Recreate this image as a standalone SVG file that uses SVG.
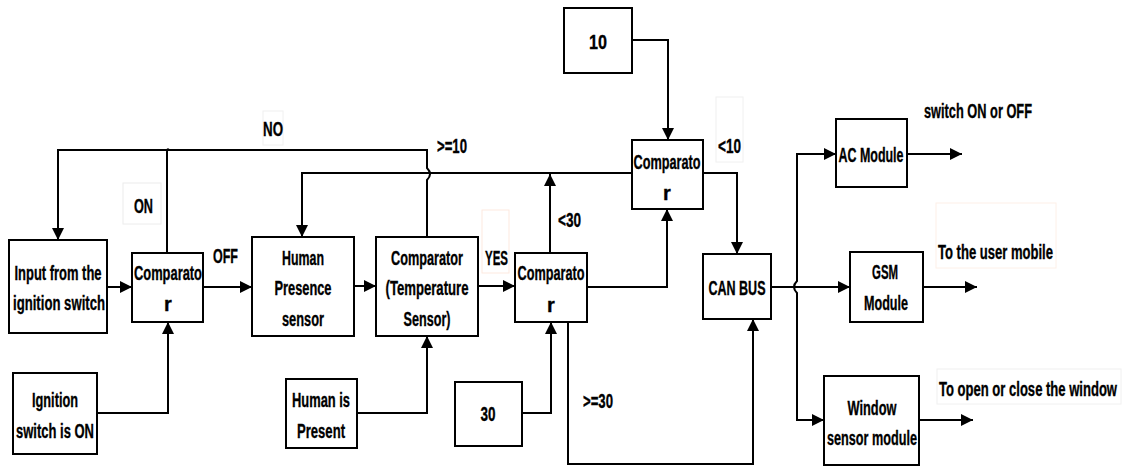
<svg xmlns="http://www.w3.org/2000/svg" width="1124" height="466" viewBox="0 0 1124 466">
<style>
.box{fill:#fff;stroke:#000;stroke-width:2}
.ln{fill:none;stroke:#000;stroke-width:2}
.lb{fill:none;stroke-width:1}
text{font-family:"Liberation Sans Narrow","Arial Narrow","Liberation Sans",Arial,sans-serif;font-weight:bold;font-size:20px;fill:#000;stroke:#000;stroke-width:0.35}
.c{text-anchor:middle}
.e{text-anchor:end}
</style>
<defs>
<marker id="ah" markerUnits="userSpaceOnUse" markerWidth="12" markerHeight="12" refX="10" refY="5" orient="auto-start-reverse" viewBox="0 0 10 10">
<path d="M0,0 L10,5 L0,10 Z" fill="#000"/>
</marker>
</defs>
<rect width="1124" height="466" fill="#fff"/>
<g id="labelboxes">
<rect class="lb" x="263" y="111" width="20" height="34" stroke="#f0f0f0"/>
<rect class="lb" x="123" y="183" width="38" height="41" stroke="#ececec"/>
<rect class="lb" x="482" y="210" width="27" height="63" stroke="#fde9df"/>
<rect class="lb" x="716" y="97" width="27" height="65" stroke="#f0f0f0"/>
<rect class="lb" x="936" y="203" width="120" height="65" stroke="#fdf0e8"/>
<rect class="lb" x="937" y="369" width="184" height="35" stroke="#f0f0f0"/>
</g>
<g id="connectors">
<path class="ln" d="M107,287 H132" marker-end="url(#ah)"/>
<path class="ln" d="M203,287 H252" marker-end="url(#ah)"/>
<path class="ln" d="M167,253 V152 Q167,148 169,150"/>
<path class="ln" d="M427,237 V180 Q433,174 427,168 V150 H58 V240" marker-end="url(#ah)"/>
<path class="ln" d="M97,413 H168 V322" marker-end="url(#ah)"/>
<path class="ln" d="M354,286 H376" marker-end="url(#ah)"/>
<path class="ln" d="M478,286 H515" marker-end="url(#ah)"/>
<path class="ln" d="M357,413 H427 V336" marker-end="url(#ah)"/>
<path class="ln" d="M522,413 H551 V322" marker-end="url(#ah)"/>
<path class="ln" d="M550,253 V174" marker-end="url(#ah)"/>
<path class="ln" d="M632,173 H302 V237" marker-end="url(#ah)"/>
<path class="ln" d="M587,287 H667 V209" marker-end="url(#ah)"/>
<path class="ln" d="M632,40 H668 V140" marker-end="url(#ah)"/>
<path class="ln" d="M703,173 H737 V254" marker-end="url(#ah)"/>
<path class="ln" d="M568,322 V464 H753 V319" marker-end="url(#ah)"/>
<path class="ln" d="M771,287 H850" marker-end="url(#ah)"/>
<path class="ln" d="M836,154 H797 V281 Q791,287 797,293 V420 H824" marker-start="url(#ah)" marker-end="url(#ah)"/>
<path class="ln" d="M907,154 H962" marker-end="url(#ah)"/>
<path class="ln" d="M923,287 H977" marker-end="url(#ah)"/>
<path class="ln" d="M919,420 H973" marker-end="url(#ah)"/>
</g>
<g id="n-input">
<rect class="box" x="9" y="240" width="98" height="93"/>
<text class="c" x="58" y="280" textLength="87" lengthAdjust="spacingAndGlyphs">Input from the</text>
<text class="c" x="59" y="310" textLength="92" lengthAdjust="spacingAndGlyphs">ignition switch</text>
</g>
<g id="n-comp1">
<rect class="box" x="132" y="253" width="71" height="69"/>
<text class="c" x="168" y="280" textLength="68" lengthAdjust="spacingAndGlyphs">Comparato</text>
<text class="c" x="168" y="311">r</text>
</g>
<g id="n-ignition">
<rect class="box" x="13" y="373" width="84" height="81"/>
<text class="c" x="55" y="407" textLength="46" lengthAdjust="spacingAndGlyphs">Ignition</text>
<text class="c" x="55" y="438" textLength="78" lengthAdjust="spacingAndGlyphs">switch is ON</text>
</g>
<g id="n-human">
<rect class="box" x="252" y="237" width="102" height="99"/>
<text class="c" x="303" y="265" textLength="42" lengthAdjust="spacingAndGlyphs">Human</text>
<text class="c" x="303" y="295" textLength="57" lengthAdjust="spacingAndGlyphs">Presence</text>
<text class="c" x="303" y="326" textLength="42" lengthAdjust="spacingAndGlyphs">sensor</text>
</g>
<g id="n-temp">
<rect class="box" x="376" y="237" width="102" height="99"/>
<text class="c" x="427" y="265" textLength="72" lengthAdjust="spacingAndGlyphs">Comparator</text>
<text class="c" x="427" y="295" textLength="83" lengthAdjust="spacingAndGlyphs">(Temperature</text>
<text class="c" x="427" y="326" textLength="47" lengthAdjust="spacingAndGlyphs">Sensor)</text>
</g>
<g id="n-present">
<rect class="box" x="286" y="379" width="71" height="69"/>
<text class="c" x="321" y="407" textLength="58" lengthAdjust="spacingAndGlyphs">Human is</text>
<text class="c" x="321" y="438" textLength="48" lengthAdjust="spacingAndGlyphs">Present</text>
</g>
<g id="n-comp3">
<rect class="box" x="515" y="253" width="72" height="69"/>
<text class="c" x="551" y="280" textLength="67" lengthAdjust="spacingAndGlyphs">Comparato</text>
<text class="c" x="551" y="312">r</text>
</g>
<g id="n-30">
<rect class="box" x="455" y="382" width="67" height="64"/>
<text class="c" x="488" y="421" textLength="15" lengthAdjust="spacingAndGlyphs">30</text>
</g>
<g id="n-10">
<rect class="box" x="564" y="8" width="68" height="65"/>
<text class="c" x="598" y="49" textLength="18" lengthAdjust="spacingAndGlyphs">10</text>
</g>
<g id="n-comp4">
<rect class="box" x="632" y="140" width="71" height="69"/>
<text class="c" x="667" y="169" textLength="67" lengthAdjust="spacingAndGlyphs">Comparato</text>
<text class="c" x="667" y="200">r</text>
</g>
<g id="n-can">
<rect class="box" x="703" y="254" width="68" height="65"/>
<text class="c" x="737" y="295" textLength="57" lengthAdjust="spacingAndGlyphs">CAN BUS</text>
</g>
<g id="n-ac">
<rect class="box" x="836" y="119" width="71" height="68"/>
<text class="c" x="871" y="162" textLength="65" lengthAdjust="spacingAndGlyphs">AC Module</text>
</g>
<g id="n-gsm">
<rect class="box" x="850" y="252" width="73" height="70"/>
<text class="c" x="885" y="279" textLength="26" lengthAdjust="spacingAndGlyphs">GSM</text>
<text class="c" x="886" y="310" textLength="44" lengthAdjust="spacingAndGlyphs">Module</text>
</g>
<g id="n-window">
<rect class="box" x="824" y="376" width="95" height="89"/>
<text class="c" x="872" y="415" textLength="49" lengthAdjust="spacingAndGlyphs">Window</text>
<text class="c" x="872" y="445" textLength="90" lengthAdjust="spacingAndGlyphs">sensor module</text>
</g>
<g id="labels">
<text x="263" y="136" textLength="20" lengthAdjust="spacingAndGlyphs">NO</text>
<text x="437" y="153" textLength="30" lengthAdjust="spacingAndGlyphs">&gt;=10</text>
<text x="134" y="213" textLength="19" lengthAdjust="spacingAndGlyphs">ON</text>
<text x="213" y="263" textLength="25" lengthAdjust="spacingAndGlyphs">OFF</text>
<text x="485" y="265" textLength="23" lengthAdjust="spacingAndGlyphs">YES</text>
<text x="558" y="227" textLength="23" lengthAdjust="spacingAndGlyphs">&lt;30</text>
<text x="718" y="153" textLength="23" lengthAdjust="spacingAndGlyphs">&lt;10</text>
<text x="583" y="408" textLength="30" lengthAdjust="spacingAndGlyphs">&gt;=30</text>
<text x="924" y="118" textLength="108" lengthAdjust="spacingAndGlyphs">switch ON or OFF</text>
<text x="938" y="259" textLength="115" lengthAdjust="spacingAndGlyphs">To the user mobile</text>
<text class="e" x="1117" y="396" textLength="178" lengthAdjust="spacingAndGlyphs">To open or close the window</text>
</g>
</svg>
